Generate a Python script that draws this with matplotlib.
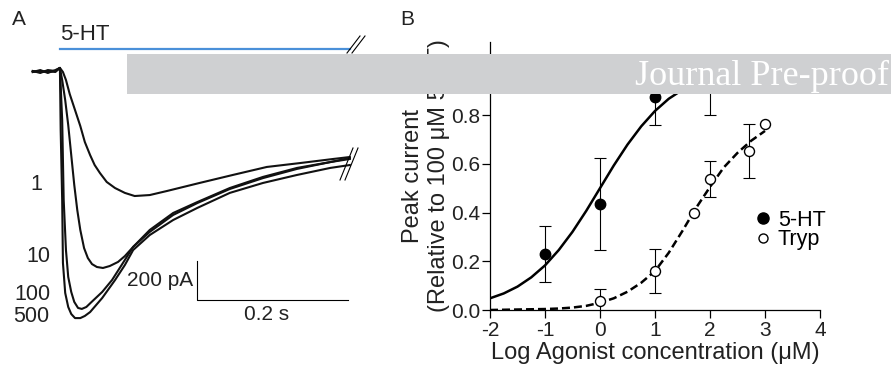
import numpy as np
import matplotlib
matplotlib.use("Agg")
import matplotlib.pyplot as plt
from matplotlib.lines import Line2D
from matplotlib.patches import Rectangle

plt.rcParams["font.family"] = ["Liberation Sans", "DejaVu Sans"]
plt.rcParams["axes.unicode_minus"] = False

# ---- panel A: whole-cell currents (ms, pA), one trace per 5-HT concentration (uM)
trace_labels = ["1", "10", "100", "500"]

t_1 = [-3, 7, 17, 27, 33, 37, 41, 46, 53, 60, 66, 73, 79, 86, 95, 106, 119, 132, 152, 175, 218, 262,
       307, 351, 395, 417]
i_1 = [5, -5, 10, 5, 21, 0, -41, -113, -195, -277, -359, -426, -477, -518, -564, -595, -620, -636,
       -631, -610, -569, -528, -487, -467, -446, -436]

t_10 = [-3, 7, 17, 27, 33, 36, 40, 44, 48, 52, 56, 60, 65, 70, 75.5, 82, 90, 99, 110, 119, 130, 152,
        183, 215, 258, 302, 347, 391, 417]
i_10 = [0, 10, -5, 10, 21, -41, -144, -272, -426, -579, -708, -810, -903, -954, -985, -1000, -1005,
        -995, -974, -944, -897, -810, -723, -667, -595, -538, -492, -462, -441]

t_100 = [-3, 7, 17, 27, 33, 36, 38, 41, 44, 48, 52, 57, 62, 68, 75, 89, 102, 119, 130, 152, 183, 215,
         258, 302, 347, 391, 417]
i_100 = [5, 0, 5, 0, 21, -246, -656, -913, -1051, -1128, -1179, -1210, -1215, -1205, -1179, -1128,
         -1067, -964, -897, -820, -733, -672, -600, -544, -497, -462, -446]

t_500 = [-3, 7, 17, 27, 33, 34, 36, 37, 40, 44, 48, 53, 60, 66, 73, 89, 106, 119, 130, 152, 183, 215,
         258, 302, 347, 391, 417]
i_500 = [0, 5, 0, 5, 21, -297, -656, -979, -1133, -1205, -1241, -1262, -1262, -1251, -1231, -1159,
         -1067, -990, -913, -836, -759, -697, -620, -569, -528, -492, -477]

agonist_on_ms = 33
agonist_off_ms = 417
scale_pa = 200
scale_ms = 200

# ---- panel B: concentration-response (log uM vs normalised peak current)
ht_logc = [-1, 0, 1, 2]
ht_resp = [0.23, 0.435, 0.875, 0.92]
ht_err = [0.115, 0.19, 0.115, 0.12]

tryp_logc = [0, 1, 1.7, 2, 2.7, 3]
tryp_resp = [0.037, 0.16, 0.40, 0.537, 0.653, 0.763]
tryp_err = [0.05, 0.09, 0.0, 0.075, 0.11, 0.0]

# fitted curves
fit_x = [-2, -1.75, -1.5, -1.25, -1, -0.75, -0.5, -0.25, 0, 0.25, 0.5, 0.75, 1, 1.25, 1.5, 1.75, 2,
         2.25, 2.5, 2.75, 3]
ht_fit = [0.048, 0.068, 0.096, 0.134, 0.183, 0.246, 0.321, 0.407, 0.5, 0.593, 0.679, 0.754, 0.817,
          0.867, 0.904, 0.932, 0.952, 0.966, 0.977, 0.984, 0.989]
tryp_fit = [0.0, 0.001, 0.002, 0.003, 0.004, 0.006, 0.010, 0.017, 0.030, 0.048, 0.075, 0.112, 0.160,
            0.235, 0.325, 0.420, 0.505, 0.585, 0.645, 0.695, 0.735]

W, H = 891, 372
TXT = "#222222"


def fig_frac(x, y):
    # image pixel (top-left origin) -> figure fraction
    return x / W, 1 - y / H


def px_to_trace(x, y):
    # image pixel -> panel A data units (ms, pA)
    return (x - 35) / 0.755, (72 - y) / 0.195


def draw_break(ax, x0, y0, x1, y1, gap):
    for dx in (0, gap):
        a = px_to_trace(x0 + dx, y0)
        b = px_to_trace(x1 + dx, y1)
        ax.plot([a[0], b[0]], [a[1], b[1]], color="black", lw=0.8, clip_on=False)


def create_figure():
    fig = plt.figure(figsize=(W / 100, H / 100), dpi=100)

    # ---------- panel A
    axA = fig.add_axes([0, 32 / H, 380 / W, 320 / H])
    x_lo, y_hi = px_to_trace(0, 20)
    x_hi, y_lo = px_to_trace(380, 340)
    axA.set_xlim(x_lo, x_hi)
    axA.set_ylim(y_lo, y_hi)
    axA.axis("off")

    for t, i in [(t_1, i_1), (t_10, i_10), (t_100, i_100), (t_500, i_500)]:
        axA.plot(t, i, color="#111111", lw=1.5, solid_joinstyle="round")

    bar_y = px_to_trace(0, 49)[1]
    axA.plot([agonist_on_ms, agonist_off_ms], [bar_y, bar_y], color="#4a90d9", lw=1.6)
    axA.text(agonist_on_ms, px_to_trace(0, 35)[1], "5-HT", fontsize=16, va="center", ha="left",
             color=TXT)

    draw_break(axA, 347, 53, 360, 36, 5)
    draw_break(axA, 340, 180, 353, 148, 5)

    # concentration labels
    label_pos = [(36, 185), (38, 256), (32, 295), (31, 317)]
    for lab, (x, y) in zip(trace_labels, label_pos):
        tx, ty = px_to_trace(x, y)
        axA.text(tx, ty, lab, fontsize=15.5, ha="center", va="center", color=TXT)

    # scale bar
    sx, sy = px_to_trace(197, 300)
    axA.plot([sx, sx, sx + scale_ms], [sy + scale_pa, sy, sy], color="black", lw=0.8)
    axA.text(sx - 5, sy + scale_pa / 2, f"{scale_pa} pA", fontsize=15, ha="right", va="center",
             color=TXT)
    axA.text(sx + scale_ms / 2 - 8, px_to_trace(0, 315)[1], f"{scale_ms / 1000:g} s", fontsize=15,
             ha="center", va="center", color=TXT)

    # ---------- panel B
    axB = fig.add_axes([490 / W, 62 / H, 330 / W, 268 / H])
    axB.plot(fit_x, ht_fit, color="black", lw=1.8, zorder=2)
    axB.plot(fit_x, tryp_fit, color="black", lw=1.8, dashes=(3.2, 1.6), zorder=2)

    axB.errorbar(ht_logc, ht_resp, yerr=ht_err, fmt="none", ecolor="black", elinewidth=0.8,
                 capsize=4, capthick=0.8, zorder=3)
    mask = np.array(tryp_err) > 0
    axB.errorbar(np.array(tryp_logc)[mask], np.array(tryp_resp)[mask], yerr=np.array(tryp_err)[mask],
                 fmt="none", ecolor="black", elinewidth=0.8, capsize=4, capthick=0.8, zorder=3)
    axB.plot(ht_logc, ht_resp, "o", ms=7.5, mfc="black", mec="black", zorder=4)
    axB.plot(tryp_logc, tryp_resp, "o", ms=7.2, mfc="white", mec="black", mew=1.0, zorder=4)

    axB.set_xlim(-2, 4)
    axB.set_ylim(0, 1.1)
    axB.set_xticks(range(-2, 5))
    axB.set_yticks([0, 0.2, 0.4, 0.6, 0.8, 1.0])
    axB.set_yticklabels([f"{v:.1f}" for v in [0, 0.2, 0.4, 0.6, 0.8, 1.0]])
    for s in ["top", "right"]:
        axB.spines[s].set_visible(False)
    for s in ["left", "bottom"]:
        axB.spines[s].set_linewidth(0.9)
    axB.tick_params(axis="both", direction="out", length=5.5, width=0.9, labelsize=15,
                    colors="black", labelcolor=TXT)
    axB.tick_params(axis="y", pad=1.5)
    axB.tick_params(axis="x", pad=2.5)

    axB.set_xlabel("Log Agonist concentration (\u03bcM)", fontsize=17, color=TXT, labelpad=1)
    axB.set_ylabel("Peak current\n(Relative to 100 \u03bcM 5-HT)", fontsize=17, color=TXT,
                   linespacing=1.25)
    axB.yaxis.set_label_coords(-0.12, 0.5)

    handles = [
        Line2D([], [], ls="none", marker="o", ms=8, mfc="black", mec="black"),
        Line2D([], [], ls="none", marker="o", ms=6.5, mfc="white", mec="black", mew=1.0),
    ]
    axB.legend(handles, ["5-HT", "Tryp"], frameon=False, fontsize=15.5, loc="upper left",
               bbox_to_anchor=(0.80, 0.375), borderpad=0, handlelength=0.8, handletextpad=0.3,
               labelspacing=-0.05, borderaxespad=0)

    # panel letters
    fig.text(*fig_frac(12, 25), "A", fontsize=15, va="baseline", color=TXT)
    fig.text(*fig_frac(400, 25), "B", fontsize=15, va="baseline", color=TXT)

    # pre-proof banner over everything
    bx, by = fig_frac(127, 94)
    fig.add_artist(Rectangle((bx, by), 1 - bx, 40 / H, transform=fig.transFigure,
                             facecolor="#cfd0d2", edgecolor="none", zorder=10))
    fig.text(*fig_frac(889, 85), "Journal Pre-proof", fontsize=26, color="white",
             family="Liberation Serif", ha="right", va="baseline", zorder=11)

    fig.savefig("out.png", dpi=100)


if __name__ == "__main__":
    create_figure()
